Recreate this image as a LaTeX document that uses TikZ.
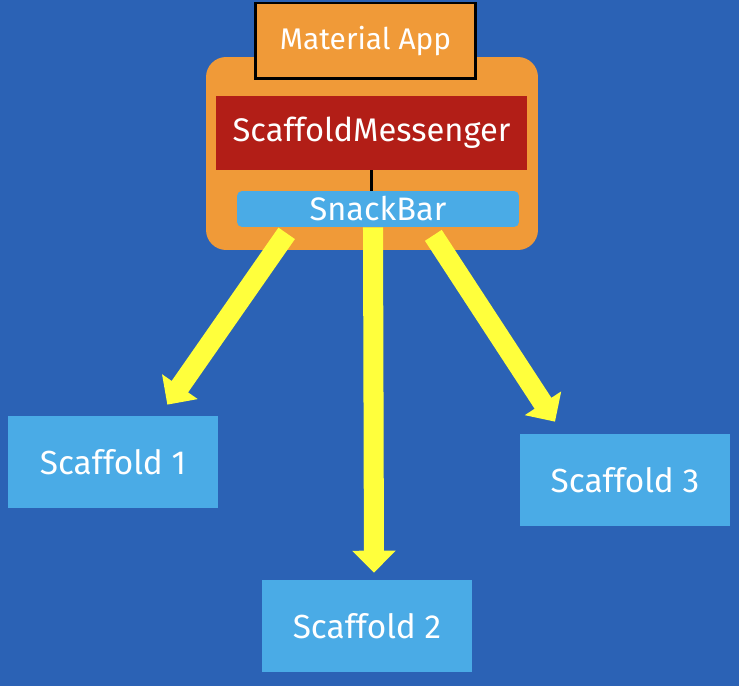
\documentclass[tikz,border=0pt]{standalone}
\usepackage{fontspec}
\setmainfont{Fira Sans}
\usetikzlibrary{arrows.meta}

\definecolor{bgblue}{RGB}{43,98,181}
\definecolor{boxorange}{RGB}{240,154,56}
\definecolor{msgred}{RGB}{178,30,23}
\definecolor{lightblue}{RGB}{74,171,230}
\definecolor{arrowyellow}{RGB}{255,255,60}

\begin{document}
\begin{tikzpicture}[
						x=0.02cm, y=-0.02cm,
						every node/.style={text=white, inner sep=0pt},
						line cap=butt,
						line join=miter,
						appbox/.style={fill=boxorange, draw=black, line width=1.7pt,
							minimum width=4.42cm, minimum height=1.52cm,
							font=\fontsize{17}{19}\selectfont},
						holder/.style={fill=boxorange, rounded corners=0.4cm,
							minimum width=6.64cm, minimum height=3.86cm},
						msgbox/.style={fill=msgred, minimum width=6.22cm, minimum height=1.48cm,
							font=\fontsize{18.6}{22}\selectfont},
						snackbox/.style={fill=lightblue, rounded corners=0.1cm,
							minimum width=5.64cm, minimum height=0.72cm,
							font=\fontsize{18.5}{20}\selectfont},
						scafbox/.style={fill=lightblue, minimum width=4.2cm, minimum height=1.84cm,
							font=\fontsize{19}{21}\selectfont},
						bigarrow/.style={draw=arrowyellow, line width=11.4pt,
							-{Triangle[width=24pt, length=12.5pt]}}
						]
						
						% Background
						\fill[bgblue] (0,0) rectangle (739,686);
						\useasboundingbox (0,0) rectangle (739,686);
						
						% Messenger block
						\node[holder] (holder) at (372,153.5) {};
						\node[appbox] (app) at (365.5,41) {Material App};
						\node[msgbox] (msg) at (371.5,133) {ScaffoldMessenger};
						\node[snackbox] (snack) at (378,209) {SnackBar};
						\draw[line width=1.4pt] (msg.south) -- (msg.south |- snack.north);
						
						% Scaffolds
						\node[scafbox] (s1) at (113,462) {Scaffold 1};
						\node[scafbox] (s2) at (367,626) {Scaffold 2};
						\node[scafbox] (s3) at (625,480) {Scaffold 3};
						
						% Arrows
						\draw[bigarrow] ([shift={(50,6)}]snack.south west) -- ([shift={(-51,-11)}]s1.north east);
						\draw[bigarrow] ([shift={(-5,0)}]snack.south) -- ([shift={(7,-7)}]s2.north);
						\draw[bigarrow] ([shift={(-86,8)}]snack.south east) -- ([shift={(-70,-12)}]s3.north);
						
					\end{tikzpicture}
\end{document}
